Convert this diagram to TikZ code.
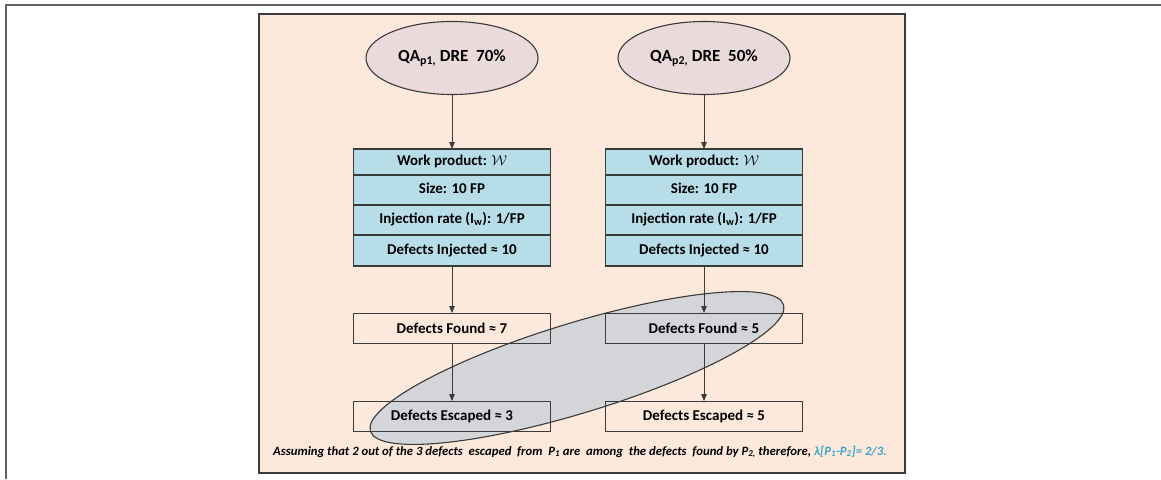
\documentclass[tikz,border=0pt]{standalone}
\usepackage{fontspec}
\setmainfont{Carlito}
\usetikzlibrary{positioning,shapes.geometric,arrows.meta}

\definecolor{panelpeach}{HTML}{FCE9DC}
\definecolor{qapink}{HTML}{EADADC}
\definecolor{wpblue}{HTML}{B7DEE8}
\definecolor{overlapgray}{HTML}{D3D5D8}
\definecolor{linegray}{HTML}{3A3A3A}
\definecolor{lambdablue}{HTML}{3AA6C9}

\tikzset{
	qa/.style={ellipse, draw=linegray, fill=qapink, line width=1.1pt,
		minimum width=172pt, minimum height=73pt, inner sep=0pt,
		font=\fontsize{17}{20}\selectfont\bfseries},
	wprow/.style={rectangle, draw=linegray, fill=wpblue, line width=1.1pt,
		minimum width=197pt, outer sep=0pt, inner ysep=0pt,
		text height=11pt, text depth=3.5pt,
		font=\fontsize{15}{18}\selectfont\bfseries},
	resultbox/.style={rectangle, draw=linegray, line width=1.1pt,
		minimum width=197pt, minimum height=30pt,
		font=\fontsize{15}{18}\selectfont\bfseries},
	overlap/.style={ellipse, draw=linegray, fill=overlapgray, line width=1.1pt,
		rotate=17, minimum width=432pt, minimum height=90pt}
}

\begin{document}
\begin{tikzpicture}[x=1pt, y=1pt, >={Triangle[length=7pt,width=5.5pt]}]
	\useasboundingbox (0,0) rectangle (1161,-479);

	% page frame and coloured panel
	\draw[line width=1.6pt, draw=linegray!80]	(1161,-5) -- (6,-5) -- (6,-479);
	\draw[line width=2.2pt, draw=linegray, fill=panelpeach]	(259,-14) rectangle (905,-473);

	% grey ellipse goes first so that the boxes sit on top of it
	\node (both)			[overlap] at (577,-368)			{};

	% Specification of nodes (position, etc.)
	\node (qa1)				[qa] at (452,-58)				{QA\textsubscript{p1,} DRE\ \ 70\%};
	\node (qa2)				[qa, right of=qa1, node distance=252pt]
															{QA\textsubscript{p2,} DRE\ \ 50\%};

	\node (wp1)				[wprow, minimum height=26pt, below of=qa1, node distance=104pt]
															{Work product: $\mathcal{W}$};
	\node (size1)			[wprow, minimum height=30pt, below=0pt of wp1]	{Size: 10 FP};
	\node (rate1)			[wprow, minimum height=30pt, below=0pt of size1]
															{Injection rate (I\textsubscript{w}): 1/FP};
	\node (inj1)			[wprow, minimum height=31pt, below=0pt of rate1]
															{Defects Injected ≈ 10};

	\node (wp2)				[wprow, minimum height=26pt, below of=qa2, node distance=104pt]
															{Work product: $\mathcal{W}$};
	\node (size2)			[wprow, minimum height=30pt, below=0pt of wp2]	{Size: 10 FP};
	\node (rate2)			[wprow, minimum height=30pt, below=0pt of size2]
															{Injection rate (I\textsubscript{w}): 1/FP};
	\node (inj2)			[wprow, minimum height=31pt, below=0pt of rate2]
															{Defects Injected ≈ 10};

	\node (found1)		[resultbox, below=47pt of inj1]		{Defects Found ≈ 7};
	\node (escaped1)	[resultbox, below=57pt of found1]	{Defects Escaped ≈ 3};
	\node (found2)		[resultbox, below=47pt of inj2]		{Defects Found ≈ 5};
	\node (escaped2)	[resultbox, below=57pt of found2]	{Defects Escaped ≈ 5};

	\node (note)			at (580,-452)	[font=\fontsize{12.7}{15}\selectfont\bfseries\itshape]
		{Assuming that 2 out of the 3 defects\ \ escaped\ \ from\ \ P\textsubscript{1} are\ \ among\ \ the defects\ \ found by P\textsubscript{2,} therefore, \textcolor{lambdablue}{λ[P\textsubscript{1}-P\textsubscript{2}]= 2/3.}};

	% Specification of lines between nodes specified above
	\draw[->, line width=0.9pt, linegray]	(qa1) -- (wp1);
	\draw[->, line width=0.9pt, linegray]	(inj1) -- (found1);
	\draw[->, line width=0.9pt, linegray]	(found1) -- (escaped1);
	\draw[->, line width=0.9pt, linegray]	(qa2) -- (wp2);
	\draw[->, line width=0.9pt, linegray]	(inj2) -- (found2);
	\draw[->, line width=0.9pt, linegray]	(found2) -- (escaped2);
\end{tikzpicture}
\end{document}
